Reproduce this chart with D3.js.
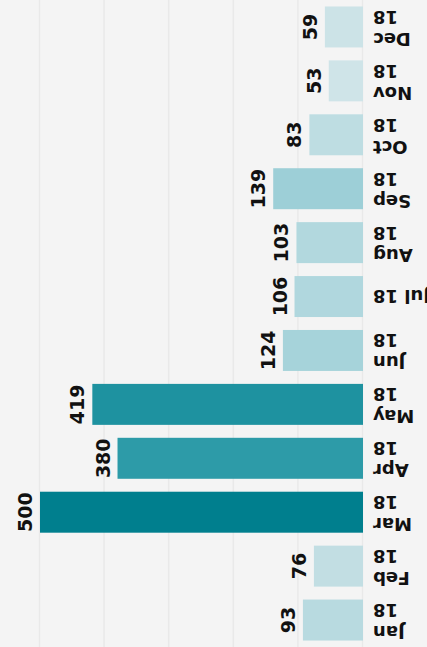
<!DOCTYPE html>
<html>
<head>
<meta charset="utf-8">
<script src="https://cdn.jsdelivr.net/npm/d3@7"></script>
<style>
  html, body { margin: 0; padding: 0; background: #f4f4f4; }
  svg { display: block; }
  text { font-family: "DejaVu Sans", sans-serif; font-weight: bold; fill: #111; }
</style>
</head>
<body>
<svg id="chart" width="427" height="647"></svg>
<script>
// Monthly totals, 2018
const months = ["Jan 18", "Feb 18", "Mar 18", "Apr 18", "May 18", "Jun 18",
                "Jul 18", "Aug 18", "Sep 18", "Oct 18", "Nov 18", "Dec 18"];
const values = [93, 76, 500, 380, 419, 124, 106, 103, 139, 83, 53, 59];
const gridTicks = [0, 100, 200, 300, 400, 500];
const colorStops = [53, 139, 380, 500];
const colorRange = ["#cfe4e8", "#9dcfd7", "#2d9ba8", "#007f8e"];

const W = 427, H = 647;
const svg = d3.select("#chart");
svg.append("rect").attr("width", W).attr("height", H).attr("fill", "#f4f4f4");

// The whole chart is drawn turned half a turn about its centre
const g = svg.append("g").attr("transform", `rotate(180 ${W / 2} ${H / 2})`);

const x = d3.scaleLinear().domain([0, 500]).range([64, 387]);
const y = d3.scaleBand().domain(months).range([0, H])
  .paddingInner(0.24).paddingOuter(0.12);

const color = d3.scaleLinear().domain(colorStops).range(colorRange);

// vertical grid lines
const grid = g.append("g").attr("class", "grid")
  .call(d3.axisTop(x).tickValues(gridTicks).tickSize(-H).tickFormat(""));
grid.select(".domain").remove();
grid.selectAll("line").attr("stroke", "#e9e9e9").attr("stroke-width", 1.5);

// bars
g.selectAll("rect.bar").data(values).join("rect")
  .attr("class", "bar")
  .attr("x", x(0))
  .attr("y", (d, i) => y(months[i]))
  .attr("width", d => x(d) - x(0))
  .attr("height", y.bandwidth())
  .attr("fill", d => color(d));

// value labels, set along the bar ends
g.selectAll("text.val").data(values).join("text")
  .attr("class", "val")
  .attr("transform", (d, i) => `translate(${x(d) + 8},${y(months[i]) + y.bandwidth() / 2}) rotate(90)`)
  .attr("text-anchor", "middle")
  .style("font-size", "19px")
  .text(d => d);

// category labels, wrapped onto two lines when they do not fit
const labelRight = 54, labelSpace = 60;
const cat = g.selectAll("text.cat").data(months).join("text")
  .attr("class", "cat")
  .attr("x", labelRight)
  .attr("text-anchor", "end")
  .style("font-size", "18px")
  .text(d => d);

cat.each(function (d) {
  const t = d3.select(this);
  const cy = y(d) + y.bandwidth() / 2;
  if (this.getComputedTextLength() > labelSpace) {
    const parts = d.split(" ");
    t.text(null).attr("y", cy - 6);
    t.append("tspan").attr("x", labelRight).text(parts[0]);
    t.append("tspan").attr("x", labelRight).attr("dy", 22).text(parts[1]);
  } else {
    t.attr("y", cy).attr("dy", "0.35em");
  }
});
</script>
</body>
</html>
